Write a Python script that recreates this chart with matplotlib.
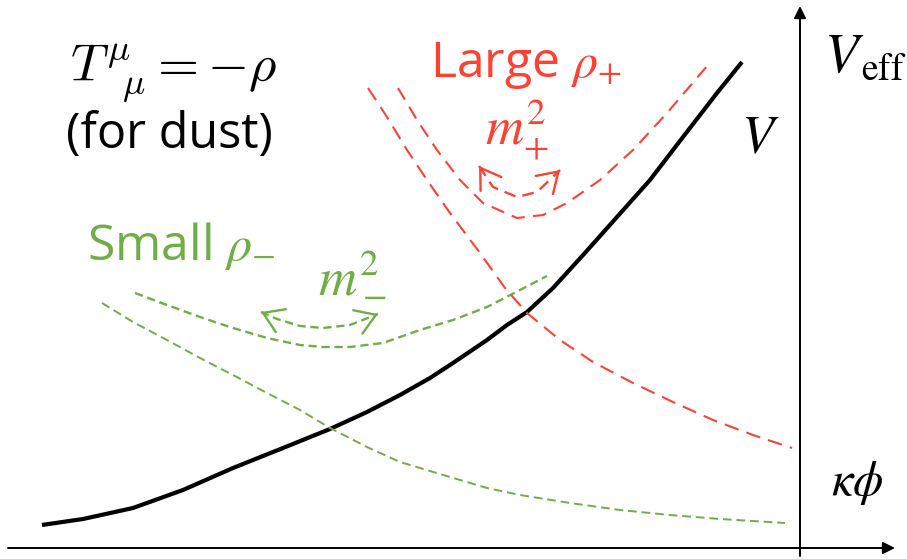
import numpy as np
import matplotlib.pyplot as plt

plt.rcParams['font.family'] = ['Open Sans', 'DejaVu Sans']

RED = '#ff4133'
GREEN = '#70ad47'
MINUS = '\u2212'

# curve traces in canvas pixels (x right, y down)
v_x = [42, 83, 133, 183, 233, 283, 330, 367, 400, 430, 453, 487, 507, 527,
       553, 584, 617, 650, 683, 717, 742]
v_y = [525, 519, 508, 490, 468, 448, 429, 412, 395, 378, 363, 340, 325, 312,
       288, 254, 217, 180, 137, 93, 62]

small_decay_x = [102, 133, 167, 200, 233, 267, 300, 330, 367, 400, 450,
                 487, 520, 570, 620, 670, 720, 785]
small_decay_y = [303, 322, 340, 358, 375, 393, 410, 428, 447, 462, 477,
                 488, 495, 503, 510, 515, 519, 523]

small_well_x = [135, 167, 200, 233, 267, 300, 323, 350, 383, 420, 453,
                487, 520, 547]
small_well_y = [293, 305, 317, 328, 338, 345, 347, 347, 343, 330, 320,
                307, 290, 276]

large_decay_x = [368, 387, 407, 427, 450, 480, 505, 527, 560, 593, 633,
                 673, 713, 753, 792]
large_decay_y = [88, 117, 150, 180, 213, 253, 288, 313, 340, 362, 383,
                 402, 420, 435, 448]

large_well_x = [398, 417, 437, 460, 483, 517, 543, 567, 600, 633, 667, 708]
large_well_y = [88, 120, 150, 180, 203, 218, 215, 203, 180, 150, 113, 65]

# curved double arrows (swing of the mass)
small_arc_x = [261, 277, 300, 323, 350, 378]
small_arc_y = [312, 319, 326, 328, 325, 314]
large_arc_x = [479, 493, 517, 537, 560]
large_arc_y = [166, 187, 197, 192, 170]

fig = plt.figure(figsize=(9.07, 5.59), dpi=100)
ax = fig.add_axes([0, 0, 1, 1])
ax.set_xlim(0, 907)
ax.set_ylim(559, 0)
ax.axis('off')

# axes with arrows
ax.annotate('', xy=(895, 548), xytext=(8, 548),
            arrowprops=dict(arrowstyle='-|>', lw=1.4, color='black',
                            mutation_scale=18, shrinkA=0, shrinkB=0))
ax.annotate('', xy=(800, 6), xytext=(800, 556),
            arrowprops=dict(arrowstyle='-|>', lw=1.4, color='black',
                            mutation_scale=18, shrinkA=0, shrinkB=0))

# potentials
ax.plot(v_x, v_y, color='black', lw=3.0, solid_capstyle='butt',
        solid_joinstyle='round')
ax.plot(small_decay_x, small_decay_y, color=GREEN, lw=1.4, dashes=(4.5, 2.5))
ax.plot(small_well_x, small_well_y, color=GREEN, lw=1.7, dashes=(3.5, 2))
ax.plot(large_decay_x, large_decay_y, color=RED, lw=1.5, dashes=(7, 4))
ax.plot(large_well_x, large_well_y, color=RED, lw=1.5, dashes=(6.5, 4))


def swing(xs, ys, color, dash):
    ax.plot(xs, ys, color=color, lw=1.7, dashes=dash)
    for i0, i1 in ((1, 0), (-2, -1)):
        tip = np.array([xs[i1], ys[i1]], float)
        d = tip - np.array([xs[i0], ys[i0]], float)
        d /= np.hypot(*d)
        ax.annotate('', xy=tip, xytext=tip - 3 * d,
                    arrowprops=dict(arrowstyle='->,head_length=0.7,head_width=0.45',
                                    lw=1.7, color=color, mutation_scale=20,
                                    shrinkA=0, shrinkB=0))


swing(small_arc_x, small_arc_y, GREEN, (3.5, 2))
swing(large_arc_x, large_arc_y, RED, (5, 3))

# labels
ax.text(70, 82, r'$T^{\mu}_{\ \ \mu} = -\rho$', fontsize=38, va='baseline',
        ha='left', math_fontfamily='cm')
ax.text(66, 148, '(for dust)', fontsize=35, va='baseline', ha='left')

ax.text(430, 77, r'Large $\rho_{+}$', fontsize=36, color=RED, va='baseline',
        ha='left', math_fontfamily='stix')
ax.text(485, 145, r'$m_{+}^{2}$', fontsize=38, color=RED, va='baseline',
        ha='left', math_fontfamily='stix')

ax.text(87, 260, 'Small $\\rho_{%s}$' % MINUS, fontsize=36, color=GREEN,
        va='baseline', ha='left', math_fontfamily='stix')
# m^2 with its lower index set as its own piece
ax.text(318, 295, r'$m^{2}$', fontsize=38, color=GREEN,
        va='baseline', ha='left', math_fontfamily='stix')
ax.text(362, 297, '$%s$' % MINUS, fontsize=26, color=GREEN,
        va='center', ha='left', math_fontfamily='stix')

ax.text(741, 153, r'$V$', fontsize=38, va='baseline', ha='left',
        math_fontfamily='stix')
ax.text(824, 72, r'$V$', fontsize=40, va='baseline', ha='left',
        math_fontfamily='stix')
ax.text(861, 80, r'$\mathrm{eff}$', fontsize=27, va='baseline', ha='left',
        math_fontfamily='stix')
ax.text(831, 495, r'$\kappa\phi$', fontsize=35, va='baseline', ha='left',
        math_fontfamily='stix')

fig.savefig('out.png', dpi=100)
